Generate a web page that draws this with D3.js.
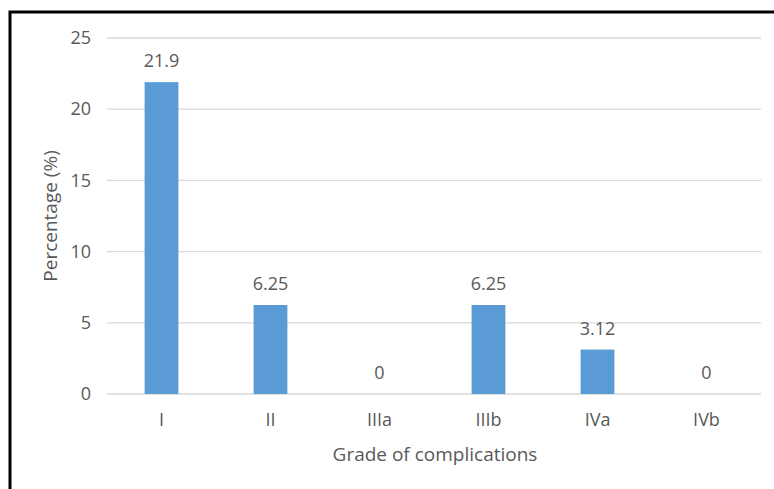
<!DOCTYPE html>
<html>
<head>
<meta charset="utf-8">
<script src="https://cdn.jsdelivr.net/npm/d3@7"></script>
<style>
  body { margin: 0; background: #fff; }
  text { font-family: "Open Sans", "Noto Sans", sans-serif; fill: #595959; }
</style>
</head>
<body>
<div id="chart"></div>
<script>
// chart data
var grades = ["I", "II", "IIIa", "IIIb", "IVa", "IVb"];
var percents = [21.9, 6.25, 0, 6.25, 3.12, 0];
var yTicks = [0, 5, 10, 15, 20, 25];

var svgWidth = 774;
var svgHeight = 489;

var margin = { top: 38, right: 13, bottom: 95, left: 107 };
var width = svgWidth - margin.left - margin.right;
var height = svgHeight - margin.top - margin.bottom;

var svg = d3.select("#chart")
  .append("svg")
  .attr("width", svgWidth)
  .attr("height", svgHeight);

// frame (only top and left edges visible in the picture)
svg.append("path")
  .attr("d", "M10,489 L10,12 L774,12")
  .attr("fill", "none")
  .attr("stroke", "#000")
  .attr("stroke-width", 3);

var chart = svg.append("g")
  .attr("transform", `translate(${margin.left}, ${margin.top})`);

var xScale = d3.scaleBand()
  .domain(grades)
  .range([0, width])
  .paddingInner(0.69)
  .paddingOuter(0.345);

var yScale = d3.scaleLinear()
  .domain([0, 25])
  .range([height, 0]);

// gridlines
chart.append("g")
  .selectAll("line")
  .data(yTicks)
  .enter()
  .append("line")
  .attr("x1", 0)
  .attr("x2", width)
  .attr("y1", d => yScale(d))
  .attr("y2", d => yScale(d))
  .attr("stroke", "#d9d9d9")
  .attr("stroke-width", 1.3);

// y axis labels
var leftAxis = d3.axisLeft(yScale).tickValues(yTicks).tickSize(0).tickPadding(16);
var yAxis = chart.append("g").call(leftAxis);
yAxis.select(".domain").remove();
yAxis.selectAll("text")
  .style("font-size", "18px")
  .style("font-family", "'Open Sans', sans-serif")
  .attr("fill", "#595959");

// x axis labels
var bottomAxis = d3.axisBottom(xScale).tickSize(0).tickPadding(19);
var xAxis = chart.append("g")
  .attr("transform", `translate(0, ${height})`)
  .call(bottomAxis);
xAxis.select(".domain").remove();
xAxis.selectAll("text")
  .style("font-size", "18px")
  .style("font-family", "'Open Sans', sans-serif")
  .attr("fill", "#595959");

// bars
chart.selectAll("rect.bar")
  .data(percents)
  .enter()
  .append("rect")
  .attr("class", "bar")
  .attr("x", (d, i) => xScale(grades[i]))
  .attr("y", d => yScale(d))
  .attr("width", xScale.bandwidth())
  .attr("height", d => height - yScale(d))
  .attr("fill", "#5b9bd5");

// value labels
chart.selectAll("text.val")
  .data(percents)
  .enter()
  .append("text")
  .attr("class", "val")
  .attr("x", (d, i) => xScale(grades[i]) + xScale.bandwidth() / 2)
  .attr("y", d => yScale(d) - 15)
  .attr("text-anchor", "middle")
  .style("font-size", "18px")
  .text(d => d);

// axis titles
chart.append("text")
  .attr("x", width / 2 + 1)
  .attr("y", height + 67)
  .attr("text-anchor", "middle")
  .style("font-size", "19px")
  .text("Grade of complications");

chart.append("text")
  .attr("transform", "rotate(-90)")
  .attr("x", -178)
  .attr("y", -50)
  .attr("text-anchor", "middle")
  .style("font-size", "19px")
  .text("Percentage (%)");
</script>
</body>
</html>
